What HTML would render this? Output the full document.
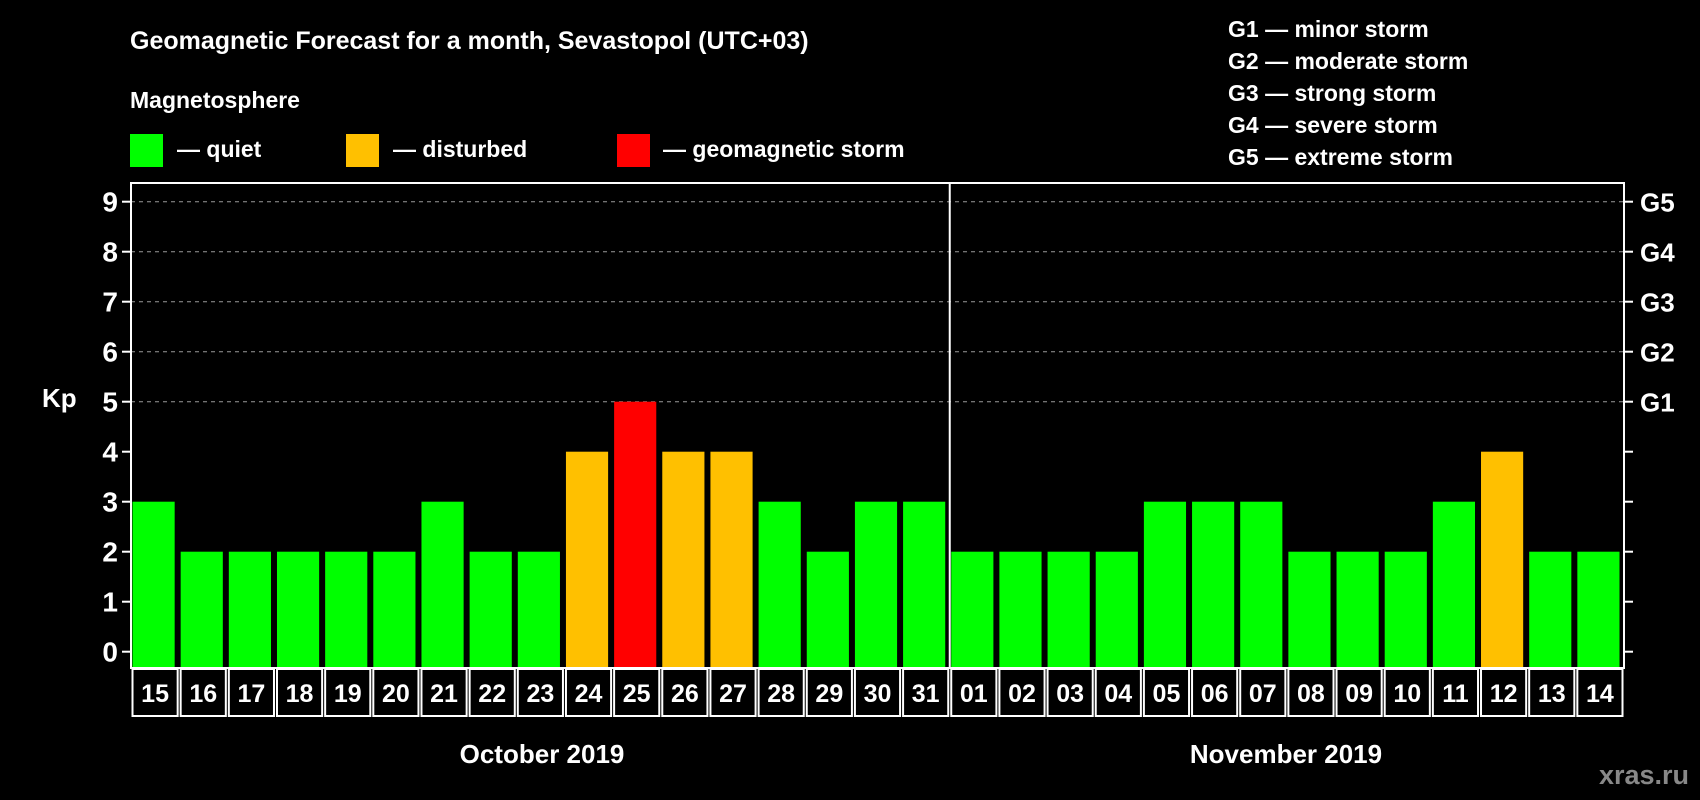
<!DOCTYPE html>
<html><head><meta charset="utf-8"><style>
html,body{margin:0;padding:0;background:#000;}
svg{display:block;font-family:"Liberation Sans",Arial,sans-serif;font-weight:bold;}
</style></head><body>
<svg id="chart" width="1700" height="800" viewBox="0 0 1700 800">
<rect width="1700" height="800" fill="#000"/>
<text x="130" y="49" fill="#fff" font-size="25">Geomagnetic Forecast for a month, Sevastopol (UTC+03)</text>
<text x="130" y="108" fill="#fff" font-size="23">Magnetosphere</text>
<g><rect x="130" y="134" width="33" height="33" fill="#00ff00"/><text x="177" y="157" fill="#fff" font-size="23">— quiet</text></g>
<g><rect x="346" y="134" width="33" height="33" fill="#ffc000"/><text x="393" y="157" fill="#fff" font-size="23">— disturbed</text></g>
<g><rect x="617" y="134" width="33" height="33" fill="#ff0000"/><text x="663" y="157" fill="#fff" font-size="23">— geomagnetic storm</text></g>
<g fill="#fff" font-size="23">
<text x="1228" y="37">G1 — minor storm</text>
<text x="1228" y="69">G2 — moderate storm</text>
<text x="1228" y="101">G3 — strong storm</text>
<text x="1228" y="133">G4 — severe storm</text>
<text x="1228" y="165">G5 — extreme storm</text>
</g>
<text x="42" y="407" fill="#fff" font-size="26">Kp</text>
<g id="plot"></g>
<text x="542" y="763" fill="#fff" font-size="26" text-anchor="middle">October 2019</text>
<text x="1286" y="763" fill="#fff" font-size="26" text-anchor="middle">November 2019</text>
<text x="1689" y="784" fill="#888" font-size="27" text-anchor="end">xras.ru</text>
</svg>
<script>
const days = ["15","16","17","18","19","20","21","22","23","24","25","26","27","28","29","30","31","01","02","03","04","05","06","07","08","09","10","11","12","13","14"];
const kpValues = [3,2,2,2,2,2,3,2,2,4,5,4,4,3,2,3,3,2,2,2,2,3,3,3,2,2,2,3,4,2,2];
const yTicks = [0,1,2,3,4,5,6,7,8,9];
const gLabels = ["G1","G2","G3","G4","G5"];
const gLevels = [5,6,7,8,9];

const NS="http://www.w3.org/2000/svg";
const g=document.getElementById('plot');
const L=131,R=1624,T=183,B=668,boxB=717;
const colW=(R-L)/days.length;
const y=v=>651.7-v*50;
const x=i=>L+i*colW;
function mk(t,a){const e=document.createElementNS(NS,t);for(const k in a)e.setAttribute(k,a[k]);g.appendChild(e);return e;}
// grid
gLevels.forEach(v=>{
  const l=mk('line',{x1:L,x2:R,y1:y(v),y2:y(v),stroke:'#999','stroke-width':1,'stroke-dasharray':'4,4'});
  
  
});
// bars
kpValues.forEach((v,i)=>{
  const c=v>=5?'#ff0000':(v>=4?'#ffc000':'#00ff00');
  const r=mk('rect',{x:x(i)+1.5,y:y(v),width:colW-6,height:B-y(v),fill:c});
  
  
});
// frame
const f=mk('rect',{x:L,y:T,width:R-L,height:B-T,fill:'none',stroke:'#fff','stroke-width':2});


const dv=mk('line',{x1:x(17),x2:x(17),y1:T,y2:B,stroke:'#fff','stroke-width':2});


// y ticks
yTicks.forEach(v=>{
  mk('line',{x1:L-9,x2:L,y1:y(v),y2:y(v),stroke:'#fff','stroke-width':2});
  mk('line',{x1:R,x2:R+9,y1:y(v),y2:y(v),stroke:'#fff','stroke-width':2});
  const t=mk('text',{x:L-13,y:y(v)+10,fill:'#fff','font-size':28,'text-anchor':'end'});
  t.textContent=v;
  
  
});
gLabels.forEach((s,i)=>{
  const t=mk('text',{x:R+16,y:y(gLevels[i])+10,fill:'#fff','font-size':26});
  t.textContent=s;
  
  
});
// day boxes
days.forEach((d,i)=>{
  const r=mk('rect',{x:x(i)+1.5,y:B+1,width:colW-3,height:boxB-B-2,fill:'#000',stroke:'#fff','stroke-width':2});
  
  
  const t=mk('text',{x:x(i)+colW/2,y:B+34,fill:'#fff','font-size':25,'text-anchor':'middle'});
  t.textContent=d;
  
  
});
</script>
</body></html>
